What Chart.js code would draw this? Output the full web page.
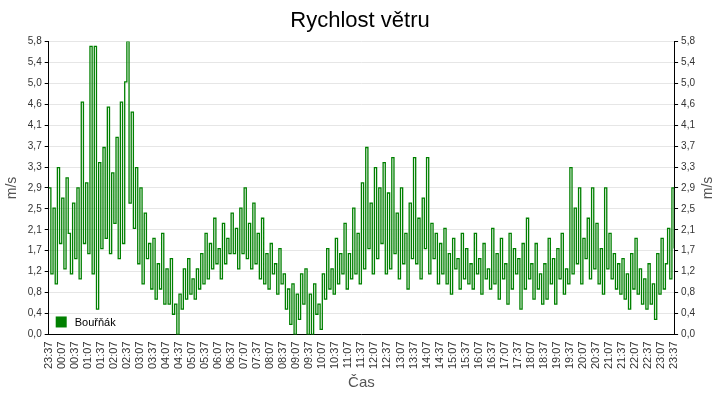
<!DOCTYPE html>
<html>
<head>
<meta charset="utf-8">
<script src="https://cdn.jsdelivr.net/npm/chart.js@4"></script>
<style>
  html, body { margin: 0; padding: 0; background: #fff; }
  #wrap { width: 720px; height: 400px; }
</style>
</head>
<body>
<div id="wrap"><canvas id="c" width="720" height="400"></canvas></div>
<script>
/* ===== Rychlost větru – data (5 min step from 23:37) ===== */
const seriesName = "Bouřňák";
const startLabel = [23, 37];          // hh, mm
const stepMinutes = 5;
const windSpeed = [
  2.9,1.2,2.5,1.0,3.3,1.8,2.7,1.3,3.1,2.0,1.2,2.6,
  1.5,2.9,1.1,4.6,1.8,3.0,1.6,5.7,1.2,5.7,0.5,3.4,
  1.7,3.7,1.9,4.5,1.6,3.2,2.2,3.9,1.5,4.6,1.8,5.0,
  5.8,2.6,4.4,2.1,3.3,1.4,2.9,1.0,2.4,1.5,1.8,0.9,
  1.9,0.7,1.4,0.9,2.0,0.6,1.3,0.6,1.5,0.4,0.6,0.0,
  0.8,0.5,1.3,0.7,1.5,0.8,1.1,0.7,1.3,0.9,1.6,1.0,
  2.0,1.1,1.8,1.3,2.3,1.4,1.7,1.1,2.2,1.4,1.9,1.6,
  2.4,1.6,2.1,1.3,2.5,1.6,2.9,1.5,2.2,1.3,2.6,1.4,
  2.0,1.1,2.3,1.0,1.6,0.9,1.8,1.2,1.4,0.8,1.7,1.0,
  1.2,0.5,0.9,0.2,1.0,0.0,0.8,0.3,1.2,0.6,1.3,0.0,
  0.8,0.0,1.0,0.4,0.6,0.1,1.2,0.7,1.7,0.9,1.3,0.8,
  1.9,1.0,1.6,1.2,2.2,0.9,1.6,1.1,2.5,1.2,2.0,1.0,
  3.0,1.3,3.7,1.7,2.6,1.2,3.3,1.5,2.9,1.8,3.4,1.2,
  2.8,1.3,3.5,1.6,2.4,1.1,2.9,1.4,2.0,0.9,2.6,1.5,
  3.5,1.4,2.3,1.1,2.7,1.7,3.5,1.2,2.2,1.5,2.0,1.0,
  1.8,1.2,2.1,1.0,1.6,0.8,1.9,1.3,1.5,0.9,2.0,1.1,
  1.7,1.0,1.4,0.9,2.0,1.2,1.5,0.8,1.8,1.1,1.3,0.9,
  2.1,1.0,1.6,0.7,1.9,1.1,1.4,0.6,2.0,0.9,1.7,1.2,
  1.5,0.5,1.8,0.9,2.3,1.1,1.4,0.7,1.8,0.9,1.2,0.6,
  1.4,0.7,1.9,1.0,1.5,0.6,1.7,1.1,2.0,0.8,1.3,1.0,
  3.3,1.2,2.5,1.4,2.9,1.0,1.9,1.5,2.3,1.1,2.9,1.3,
  2.2,1.0,1.7,0.8,2.9,1.3,2.0,1.1,1.6,0.9,1.4,0.8,
  1.5,0.7,1.2,0.5,1.6,0.9,1.9,0.8,1.3,0.6,1.1,0.5,
  1.4,0.6,1.0,0.3,1.6,0.8,1.9,0.9,1.4,2.1,1.1,2.9,
  1.7
];
const yMax = 5.8;
const yDivisions = 14;
const xTickEvery = 30;   // minutes
const xTotal = 1440;     // minutes

const timeLabel = (min) => {
  const t = (startLabel[0] * 60 + startLabel[1] + min) % 1440;
  return String(Math.floor(t / 60)).padStart(2, "0") + ":" + String(t % 60).padStart(2, "0");
};
const yLabel = (v) => v.toFixed(1).replace(".", ",");

const points = windSpeed.map((v, i) => ({ x: i * stepMinutes, y: v }));
const FONT = "'Liberation Sans', Arial, sans-serif";

// legend inside plot (bottom-left) + right axis title reading bottom-up
const extras = {
  id: "extras",
  afterDraw(chart) {
    const { ctx, chartArea: a } = chart;
    ctx.save();
    ctx.fillStyle = "#008000";
    ctx.fillRect(a.left + 7, a.bottom - 18, 11, 11);
    ctx.fillStyle = "#000";
    ctx.font = "11px " + FONT;
    ctx.textBaseline = "middle";
    ctx.fillText(seriesName, a.left + 26, a.bottom - 12);
    ctx.translate(708, (a.top + a.bottom) / 2);
    ctx.rotate(-Math.PI / 2);
    ctx.fillStyle = "#555";
    ctx.font = "14px " + FONT;
    ctx.textAlign = "center";
    ctx.fillText("m/s", 0, 0);
    ctx.restore();
  }
};

const yCommon = {
  min: 0, max: yMax,
  afterBuildTicks: (s) => { s.ticks = Array.from({ length: yDivisions + 1 }, (_, i) => ({ value: yMax * i / yDivisions })); },
  ticks: { callback: yLabel, color: "#333", font: { size: 10, family: FONT }, padding: 3 },
  border: { color: "#000" }
};

new Chart(document.getElementById("c"), {
  type: "line",
  data: { datasets: [{ label: seriesName, data: points, borderColor: "#008000", borderWidth: 1.3, pointRadius: 0, stepped: "before", tension: 0, fill: false }] },
  plugins: [extras],
  options: {
    responsive: false, animation: false,
    layout: { padding: { top: 0, right: 0, left: 0, bottom: 8 } },
    plugins: {
      legend: { display: false },
      tooltip: { enabled: false },
      title: { display: true, text: "Rychlost větru", color: "#000", font: { size: 22, family: FONT, weight: "normal" }, padding: { top: 8, bottom: 7 } }
    },
    scales: {
      x: {
        type: "linear", min: 0, max: xTotal,
        afterBuildTicks: (s) => { s.ticks = Array.from({ length: xTotal / xTickEvery + 1 }, (_, i) => ({ value: i * xTickEvery })); },
        ticks: { callback: timeLabel, maxRotation: 90, minRotation: 90, autoSkip: false, color: "#333", font: { size: 11, family: FONT } },
        grid: { display: false, drawTicks: true, tickLength: 4, tickColor: "#000" },
        border: { color: "#000" },
        title: { display: true, text: "Čas", color: "#555", font: { size: 15, family: FONT }, padding: { top: 2, bottom: 0 } }
      },
      y: Object.assign({}, yCommon, {
        position: "left",
        grid: { color: "#e6e6e6", tickLength: 4, tickColor: "#000" },
        title: { display: true, text: "m/s", color: "#555", font: { size: 14, family: FONT } }
      }),
      y2: Object.assign({}, yCommon, {
        position: "right",
        grid: { drawOnChartArea: false, tickLength: 4, tickColor: "#000" },
        afterFit: (s) => { s.width += 22; }
      })
    }
  }
});
</script>
</body>
</html>
